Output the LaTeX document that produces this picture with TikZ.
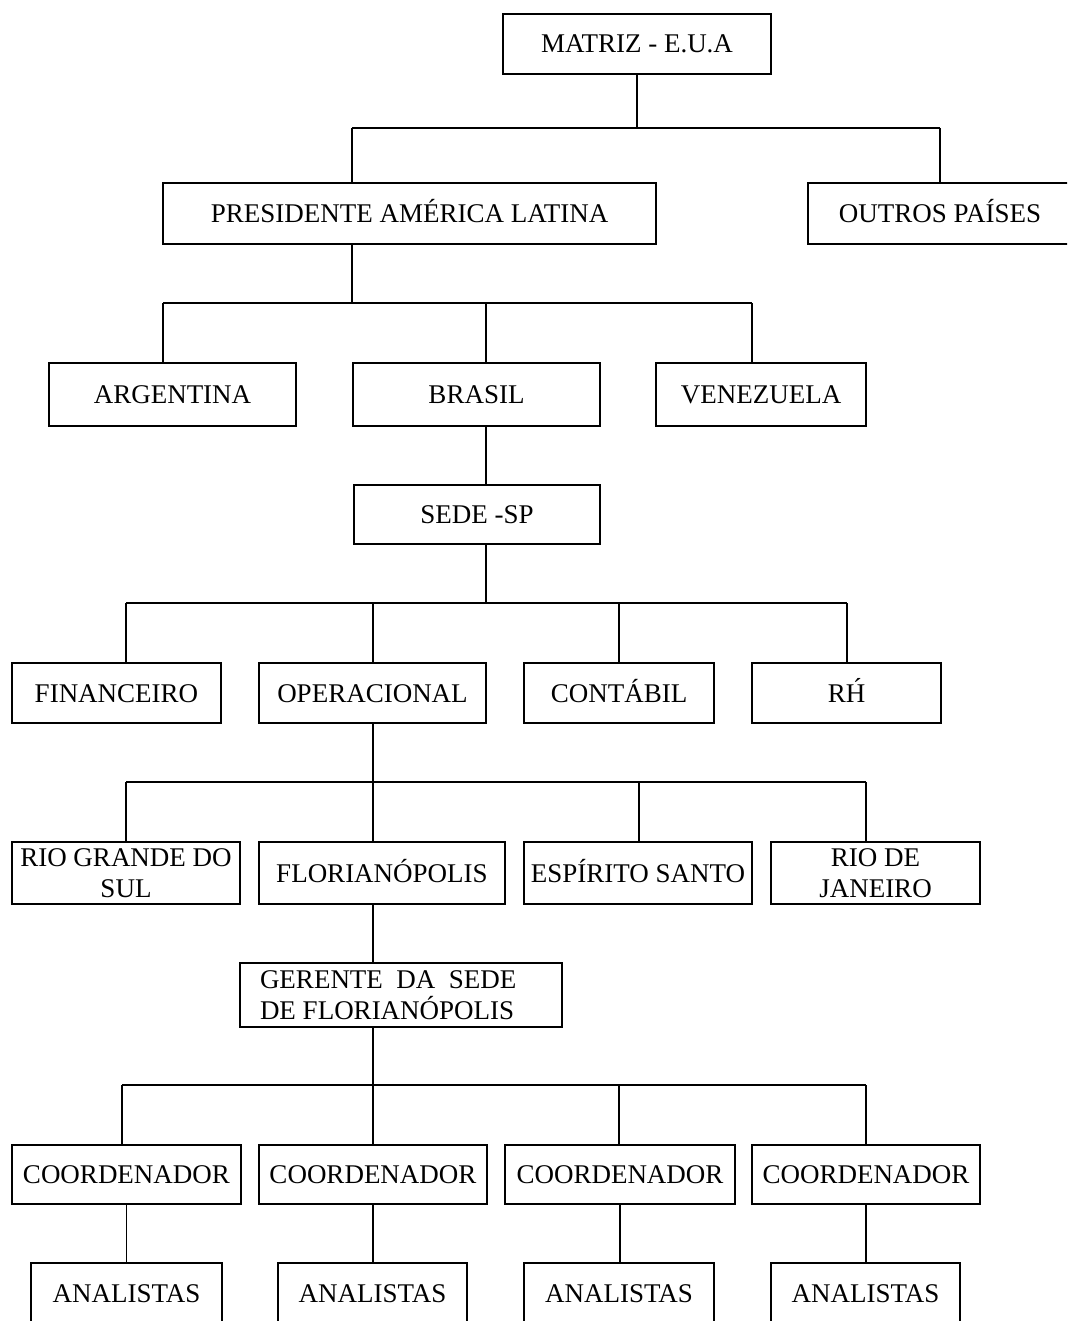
\documentclass[tikz,border=0pt]{standalone}
\usepackage{fontspec}
\setmainfont{Liberation Serif}
\begin{document}
\begin{tikzpicture}[x=1pt, y=-1pt, line width=1.4pt,
  orgbox/.style={draw, inner sep=0pt, font=\fontsize{27}{31}\selectfont, text height=18pt, text depth=0pt},
  twobox/.style={draw, inner sep=0pt, font=\fontsize{27}{31}\selectfont, align=center}]
\useasboundingbox (0,0) rectangle (1067,1321);
\clip (0,0) rectangle (1067,1321);
\node[orgbox, minimum width=268pt, minimum height=60pt] (matriz) at (637,44) {MATRIZ - E.U.A};
\node[orgbox, minimum width=493pt, minimum height=61pt] (pres) at (409.5,213.5) {PRESIDENTE AMÉRICA LATINA};
\node[orgbox, minimum width=264pt, minimum height=61pt] (outros) at (940,213.5) {OUTROS PAÍSES};
\node[orgbox, minimum width=247pt, minimum height=63pt] (arg) at (172.5,394.5) {ARGENTINA};
\node[orgbox, minimum width=247pt, minimum height=63pt] (bra) at (476.5,394.5) {BRASIL};
\node[orgbox, minimum width=210pt, minimum height=63pt] (ven) at (761,394.5) {VENEZUELA};
\node[orgbox, minimum width=246pt, minimum height=59pt] (sede) at (477,514.5) {SEDE -SP};
\node[orgbox, minimum width=209pt, minimum height=60pt] (fin) at (116.5,693) {FINANCEIRO};
\node[orgbox, minimum width=227pt, minimum height=60pt] (oper) at (372.5,693) {OPERACIONAL};
\node[orgbox, minimum width=190pt, minimum height=60pt] (cont) at (619,693) {CONTÁBIL};
\node[orgbox, minimum width=189pt, minimum height=60pt] (rh) at (846.5,693) {R\'{H}};
\node[twobox, minimum width=228pt, minimum height=62pt] (rgs) at (126,873) {RIO GRANDE DO\\SUL};
\node[orgbox, minimum width=246pt, minimum height=62pt] (flo) at (382,873) {FLORIANÓPOLIS};
\node[orgbox, minimum width=228pt, minimum height=62pt] (es) at (638,873) {ESPÍRITO SANTO};
\node[twobox, minimum width=209pt, minimum height=62pt] (rj) at (875.5,873) {RIO DE\\JANEIRO};
\node[twobox, align=flush left, text width=282pt, inner xsep=20pt, minimum width=322pt, minimum height=64pt] (ger) at (401,995) {GERENTE\ \ DA\ \ SEDE\\DE FLORIANÓPOLIS};
\foreach \i/\x/\w in {1/126.5/229, 2/373/228, 3/620/230, 4/866/228}
  \node[orgbox, minimum width=\w pt, minimum height=59pt] (c\i) at (\x,1174.5) {COORDENADOR};
\foreach \i/\x/\w in {1/126.5/191, 2/372.5/189, 3/619/190, 4/865.5/189}
  \node[orgbox, minimum width=\w pt, minimum height=60pt] (a\i) at (\x,1293) {ANALISTAS};
%%%%%%%%%%%%%
\coordinate (m1) at (352,128);
\coordinate (m2) at (940,128);
\draw (matriz.south) -- (matriz.south |- m1);
\draw (m1) -- (m2);
\draw (m1) -- (m1 |- pres.north);
\draw (m2) -- (m2 |- outros.north);
%%%%%%%%%%%%%
\coordinate (p1) at (163,303);
\coordinate (p2) at (486,303);
\coordinate (p3) at (752,303);
\draw (pres.south -| m1) -- (m1 |- p1);
\draw (p1) -- (p3);
\draw (p1) -- (p1 |- arg.north);
\draw (p2) -- (p2 |- bra.north);
\draw (p3) -- (p3 |- ven.north);
\draw (bra.south -| p2) -- (sede.north -| p2);
%%%%%%%%%%%%%
\coordinate (s1) at (126,603);
\coordinate (s2) at (373,603);
\coordinate (s3) at (619,603);
\coordinate (s4) at (847,603);
\draw (sede.south -| p2) -- (p2 |- s1);
\draw (s1) -- (s4);
\draw (s1) -- (s1 |- fin.north);
\draw (s2) -- (s2 |- oper.north);
\draw (s3) -- (s3 |- cont.north);
\draw (s4) -- (s4 |- rh.north);
%%%%%%%%%%%%%
\coordinate (o1) at (126,782);
\coordinate (o2) at (373,782);
\coordinate (o3) at (639,782);
\coordinate (o4) at (866,782);
\draw (oper.south -| o2) -- (o2);
\draw (o1) -- (o4);
\draw (o1) -- (o1 |- rgs.north);
\draw (o2) -- (o2 |- flo.north);
\draw (o3) -- (o3 |- es.north);
\draw (o4) -- (o4 |- rj.north);
\draw (flo.south -| o2) -- (ger.north -| o2);
%%%%%%%%%%%%%
\coordinate (g1) at (122,1085);
\coordinate (g2) at (373,1085);
\coordinate (g3) at (619,1085);
\coordinate (g4) at (866,1085);
\draw (ger.south -| g2) -- (g2);
\draw (g1) -- (g4);
\foreach \i in {1,...,4} {
  \draw (g\i) -- (g\i |- c\i.north);
  \draw (c\i.south) -- (c\i.south |- a\i.north);
}
\end{tikzpicture}
\end{document}
